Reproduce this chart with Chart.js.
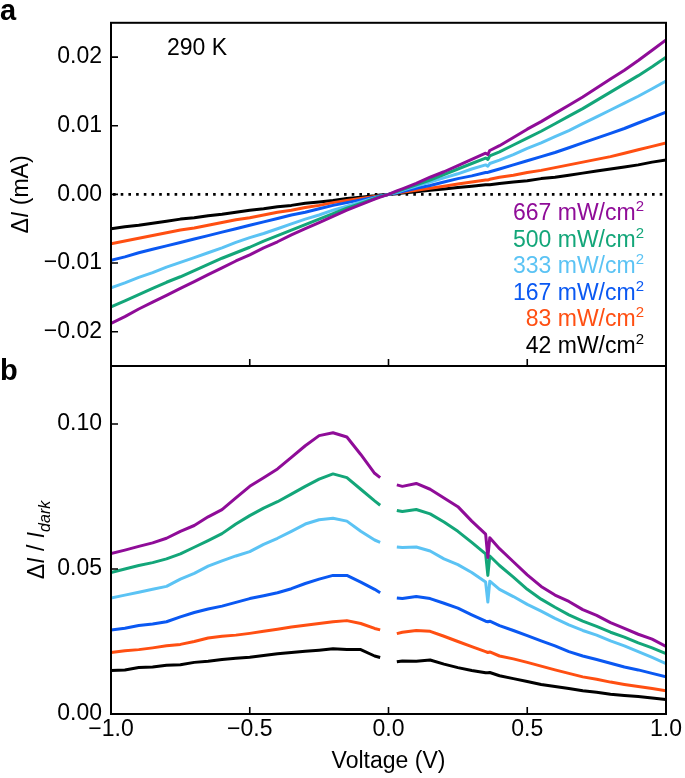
<!DOCTYPE html>
<html><head><meta charset="utf-8">
<script src="https://cdn.jsdelivr.net/npm/chart.js@4.4.0/dist/chart.umd.min.js"></script>
<style>
html,body{margin:0;padding:0;background:#fff;width:685px;height:778px;overflow:hidden}
canvas{position:absolute;left:0;top:0}
</style></head>
<body>
<canvas id="ca" width="685" height="778"></canvas>
<canvas id="cb" width="685" height="778"></canvas>
<script>
// ---------- data ----------
const voltage = [-1.00,-0.95,-0.90,-0.85,-0.80,-0.75,-0.70,-0.65,-0.60,-0.55,-0.50,-0.45,-0.40,-0.35,-0.30,-0.25,-0.20,-0.15,-0.10,-0.05,-0.03,0.00,0.03,0.05,0.10,0.15,0.20,0.25,0.30,0.35,0.358,0.365,0.40,0.45,0.50,0.55,0.60,0.65,0.70,0.75,0.80,0.85,0.90,0.95,1.00];
const intensityLabels = ['667','500','333','167','83','42'];
const seriesColors = ['#8f0c98','#13a679','#5bc3f4','#0a58f2','#ff4f12','#000000'];
const temperatureLabel = '290 K';

// panel a: ΔI (mA)
const dI_667 = [-0.0188,-0.0178,-0.0167,-0.0157,-0.0147,-0.0137,-0.0127,-0.0117,-0.0107,-0.0097,-0.0088,-0.0078,-0.0069,-0.0059,-0.0050,-0.0041,-0.0032,-0.0023,-0.0015,-0.0007,-0.0004,0,0.0005,0.0008,0.0016,0.0025,0.0033,0.0042,0.0051,0.0060,0.0058,0.0064,0.0071,0.0083,0.0095,0.0106,0.0118,0.0130,0.0142,0.0155,0.0168,0.0181,0.0195,0.0210,0.0225];
const dI_500 = [-0.0164,-0.0155,-0.0146,-0.0137,-0.0128,-0.0120,-0.0111,-0.0102,-0.0093,-0.0085,-0.0077,-0.0068,-0.0060,-0.0052,-0.0044,-0.0036,-0.0028,-0.0020,-0.0013,-0.0006,-0.0003,0,0.0004,0.0007,0.0014,0.0021,0.0029,0.0037,0.0045,0.0053,0.0051,0.0056,0.0062,0.0072,0.0082,0.0092,0.0103,0.0114,0.0125,0.0137,0.0149,0.0161,0.0173,0.0186,0.0200];
const dI_333 = [-0.0136,-0.0129,-0.0121,-0.0114,-0.0106,-0.0099,-0.0092,-0.0085,-0.0078,-0.0070,-0.0063,-0.0057,-0.0050,-0.0043,-0.0036,-0.0030,-0.0023,-0.0017,-0.0011,-0.0005,-0.0003,0,0.0003,0.0006,0.0012,0.0018,0.0024,0.0030,0.0037,0.0043,0.0041,0.0045,0.0050,0.0058,0.0067,0.0075,0.0084,0.0093,0.0103,0.0113,0.0123,0.0133,0.0143,0.0154,0.0165];
const dI_167 = [-0.0096,-0.0091,-0.0085,-0.0080,-0.0075,-0.0070,-0.0065,-0.0060,-0.0055,-0.0050,-0.0045,-0.0040,-0.0035,-0.0030,-0.0026,-0.0021,-0.0016,-0.0012,-0.0008,-0.0004,-0.0002,0,0.0002,0.0004,0.0009,0.0013,0.0018,0.0023,0.0027,0.0032,0.0032,0.0033,0.0037,0.0043,0.0049,0.0055,0.0061,0.0068,0.0075,0.0082,0.0089,0.0096,0.0104,0.0112,0.0120];
const dI_83 = [-0.0072,-0.0068,-0.0064,-0.0060,-0.0056,-0.0052,-0.0049,-0.0045,-0.0041,-0.0037,-0.0034,-0.0030,-0.0026,-0.0023,-0.0019,-0.0016,-0.0012,-0.0009,-0.0006,-0.0003,-0.0002,0,0.0002,0.0003,0.0006,0.0009,0.0012,0.0015,0.0018,0.0021,0.0021,0.0022,0.0025,0.0028,0.0032,0.0035,0.0039,0.0043,0.0047,0.0051,0.0055,0.0060,0.0065,0.0070,0.0075];
const dI_42 = [-0.0050,-0.0047,-0.0045,-0.0042,-0.0039,-0.0036,-0.0034,-0.0031,-0.0029,-0.0026,-0.0023,-0.0021,-0.0018,-0.0016,-0.0013,-0.0011,-0.0009,-0.0006,-0.0004,-0.0002,-0.0001,0,0.0001,0.0002,0.0004,0.0006,0.0008,0.0010,0.0012,0.0014,0.0014,0.0014,0.0016,0.0018,0.0020,0.0023,0.0025,0.0028,0.0031,0.0034,0.0037,0.0040,0.0043,0.0047,0.0050];

// panel b: ΔI / I_dark
const ratio_667 = [0.0553,0.0565,0.0578,0.0590,0.0606,0.0630,0.0650,0.0680,0.0705,0.0745,0.0785,0.0815,0.0845,0.0885,0.0925,0.0960,0.0970,0.0955,0.0895,0.0830,0.0815,null,0.0790,0.0785,0.0795,0.0775,0.0745,0.0715,0.0665,0.0620,0.0540,0.0608,0.0570,0.0525,0.0480,0.0440,0.0410,0.0388,0.0360,0.0340,0.0315,0.0295,0.0275,0.0258,0.0233];
const ratio_500 = [0.0488,0.0500,0.0512,0.0522,0.0535,0.0552,0.0575,0.0598,0.0622,0.0655,0.0684,0.0710,0.0732,0.0758,0.0785,0.0810,0.0828,0.0815,0.0775,0.0735,0.0720,null,0.0702,0.0698,0.0705,0.0690,0.0662,0.0630,0.0592,0.0552,0.0478,0.0545,0.0512,0.0472,0.0430,0.0396,0.0368,0.0342,0.0320,0.0302,0.0282,0.0265,0.0245,0.0228,0.0208];
const ratio_333 = [0.0400,0.0410,0.0420,0.0430,0.0440,0.0465,0.0485,0.0510,0.0528,0.0545,0.0560,0.0585,0.0606,0.0630,0.0655,0.0670,0.0675,0.0665,0.0630,0.0600,0.0592,null,0.0576,0.0574,0.0576,0.0562,0.0535,0.0515,0.0488,0.0455,0.0386,0.0458,0.0430,0.0405,0.0378,0.0355,0.0330,0.0307,0.0288,0.0272,0.0252,0.0235,0.0215,0.0195,0.0174];
const ratio_167 = [0.0290,0.0296,0.0305,0.0310,0.0318,0.0335,0.0350,0.0362,0.0372,0.0385,0.0398,0.0408,0.0418,0.0432,0.0450,0.0465,0.0478,0.0478,0.0455,0.0430,0.0418,null,0.0400,0.0398,0.0405,0.0398,0.0382,0.0365,0.0342,0.0320,0.0318,0.0320,0.0305,0.0288,0.0270,0.0252,0.0235,0.0215,0.0200,0.0188,0.0175,0.0162,0.0152,0.0140,0.0128];
const ratio_83 = [0.0212,0.0218,0.0222,0.0228,0.0235,0.0240,0.0250,0.0262,0.0268,0.0272,0.0278,0.0285,0.0292,0.0300,0.0306,0.0312,0.0318,0.0322,0.0312,0.0295,0.0290,null,0.0277,0.0282,0.0288,0.0285,0.0268,0.0250,0.0232,0.0215,0.0212,0.0214,0.0200,0.0190,0.0178,0.0165,0.0152,0.0140,0.0128,0.0120,0.0110,0.0102,0.0095,0.0088,0.0080];
const ratio_42 = [0.0150,0.0152,0.0160,0.0162,0.0168,0.0170,0.0178,0.0182,0.0188,0.0192,0.0196,0.0202,0.0208,0.0212,0.0216,0.0220,0.0225,0.0222,0.0222,0.0200,0.0195,null,0.0180,0.0183,0.0182,0.0186,0.0172,0.0160,0.0150,0.0142,0.0142,0.0143,0.0132,0.0122,0.0112,0.0102,0.0095,0.0088,0.0080,0.0075,0.0068,0.0064,0.0060,0.0055,0.0050];

const xTicks = [-1, -0.5, 0, 0.5, 1];
const yTicksA = [-0.02, -0.01, 0, 0.01, 0.02];
const yTicksB = [0, 0.05, 0.10];
const zeroLevel = 0;

// ---------- styling ----------
const FONT = '"Liberation Sans", Arial, Helvetica, sans-serif';
const FS = 23;
Chart.defaults.font.family = FONT;
Chart.defaults.font.size = FS;
Chart.defaults.color = '#000';

const seriesA = [dI_667, dI_500, dI_333, dI_167, dI_83, dI_42];
const seriesB = [ratio_667, ratio_500, ratio_333, ratio_167, ratio_83, ratio_42];

function fmtY(v){ const s = Math.abs(v).toFixed(2); return (v < -1e-9 ? '\u2212' : '') + s; }
function fmtX(v){ const s = Math.abs(v).toFixed(1); return (v < -1e-9 ? '\u2212' : '') + s; }

function makeDatasets(list){
  return list.map((arr, k) => ({
    label: intensityLabels[k] + ' mW/cm2',
    data: voltage.map((v, i) => ({x: v, y: arr[i]})),
    borderColor: seriesColors[k],
    backgroundColor: seriesColors[k],
    borderWidth: 3,
    pointRadius: 0,
    tension: 0,
    spanGaps: false,
    borderJoinStyle: 'round'
  }));
}

function drawRich(ctx, cx, cy, segs){
  ctx.save();
  ctx.translate(cx, cy);
  ctx.rotate(-Math.PI/2);
  let w = 0;
  segs.forEach(s => { ctx.font = s.font; s.w = ctx.measureText(s.t).width; w += s.w; });
  let x = -w/2;
  ctx.textBaseline = 'alphabetic';
  ctx.textAlign = 'left';
  ctx.fillStyle = '#000';
  segs.forEach(s => { ctx.font = s.font; ctx.fillText(s.t, x, s.dy); x += s.w; });
  ctx.restore();
}

const frameTicks = {
  id: 'frameTicks',
  afterDatasetsDraw(chart){
    const {ctx, chartArea: a, scales} = chart;
    ctx.save();
    ctx.strokeStyle = '#000';
    ctx.lineWidth = 2;
    ctx.strokeRect(a.left, a.top, a.right - a.left, a.bottom - a.top);
    ctx.lineWidth = 1.6;
    ctx.beginPath();
    scales.x.ticks.forEach(t => {
      const px = scales.x.getPixelForValue(t.value);
      ctx.moveTo(px, a.bottom); ctx.lineTo(px, a.bottom - 7);
    });
    scales.y.ticks.forEach(t => {
      const py = scales.y.getPixelForValue(t.value);
      ctx.moveTo(a.left, py); ctx.lineTo(a.left + 7, py);
    });
    ctx.stroke();
    ctx.restore();
  }
};

const decorA = {
  id: 'decorA',
  beforeDatasetsDraw(chart){
    const {ctx, chartArea: a, scales} = chart;
    const py = scales.y.getPixelForValue(zeroLevel);
    ctx.save();
    ctx.strokeStyle = '#000';
    ctx.lineWidth = 2.6;
    ctx.setLineDash([2.6, 5.1]);
    ctx.beginPath(); ctx.moveTo(a.left + 2, py); ctx.lineTo(a.right, py); ctx.stroke();
    ctx.restore();
  },
  afterDraw(chart){
    const {ctx, chartArea: a} = chart;
    ctx.save();
    ctx.fillStyle = '#000';
    ctx.font = 'bold 29px ' + FONT;
    ctx.textAlign = 'left'; ctx.textBaseline = 'alphabetic';
    ctx.fillText('a', 0, 20);
    ctx.font = FS + 'px ' + FONT;
    ctx.fillText(temperatureLabel, 167, 55);
    const right = 644, base0 = 220, step = 26.6;
    intensityLabels.forEach((lab, k) => {
      const main = lab + ' mW/cm';
      ctx.font = '15px ' + FONT;
      const wSup = ctx.measureText('2').width;
      ctx.font = FS + 'px ' + FONT;
      const wMain = ctx.measureText(main).width;
      const y = base0 + k * step;
      ctx.fillStyle = seriesColors[k];
      ctx.fillText(main, right - wSup - wMain, y);
      ctx.font = '15px ' + FONT;
      ctx.fillText('2', right - wSup, y - 9);
    });
    ctx.restore();
    const cy = (a.top + a.bottom) / 2;
    drawRich(ctx, 20, cy, [
      {t:'\u0394', font: FS + 'px ' + FONT, dy: 8},
      {t:'I', font: 'italic ' + FS + 'px ' + FONT, dy: 8},
      {t:' (mA)', font: FS + 'px ' + FONT, dy: 8}
    ]);
  }
};

const decorB = {
  id: 'decorB',
  afterDraw(chart){
    const {ctx, chartArea: a} = chart;
    ctx.save();
    ctx.fillStyle = '#000';
    ctx.font = 'bold 29px ' + FONT;
    ctx.textAlign = 'left'; ctx.textBaseline = 'alphabetic';
    ctx.fillText('b', 0, 380);
    ctx.font = FS + 'px ' + FONT;
    ctx.textAlign = 'center';
    ctx.fillText('Voltage (V)', (a.left + a.right) / 2, 768);
    ctx.restore();
    const cy = (a.top + a.bottom) / 2;
    drawRich(ctx, 36, cy, [
      {t:'\u0394', font: FS + 'px ' + FONT, dy: 8},
      {t:'I', font: 'italic ' + FS + 'px ' + FONT, dy: 8},
      {t:' / ', font: FS + 'px ' + FONT, dy: 8},
      {t:'I', font: 'italic ' + FS + 'px ' + FONT, dy: 8},
      {t:'dark', font: 'italic 16px ' + FONT, dy: 14}
    ]);
  }
};

function makeChart(id, datasets, yMin, yMax, yTicks, padding, showXLabels, plugin){
  return new Chart(document.getElementById(id), {
    type: 'line',
    data: { datasets },
    options: {
      responsive: false,
      animation: false,
      devicePixelRatio: 1,
      layout: { padding },
      plugins: { legend: {display: false}, tooltip: {enabled: false} },
      scales: {
        x: {
          type: 'linear', min: -1, max: 1,
          afterBuildTicks: s => { s.ticks = xTicks.map(v => ({value: v})); },
          afterFit: s => { s.height = showXLabels ? 64 : 0; },
          grid: {display: false, drawTicks: false},
          border: {display: false},
          ticks: { display: showXLabels, padding: 2, maxRotation: 0, autoSkip: false,
                   callback: v => fmtX(v), font: {size: FS} }
        },
        y: {
          type: 'linear', min: yMin, max: yMax,
          afterBuildTicks: s => { s.ticks = yTicks.map(v => ({value: v})); },
          afterFit: s => { s.width = 100; },
          grid: {display: false, drawTicks: false},
          border: {display: false},
          ticks: { padding: 9, autoSkip: false, callback: v => fmtY(v), font: {size: FS} }
        }
      }
    },
    plugins: [frameTicks, plugin]
  });
}

makeChart('ca', makeDatasets(seriesA), -0.025, 0.025, yTicksA,
          {left: 11, right: 19, top: 18, bottom: 778 - 366}, false, decorA);
makeChart('cb', makeDatasets(seriesB), 0, 0.12, yTicksB,
          {left: 11, right: 19, top: 366, bottom: 0}, true, decorB);
</script>
</body></html>
